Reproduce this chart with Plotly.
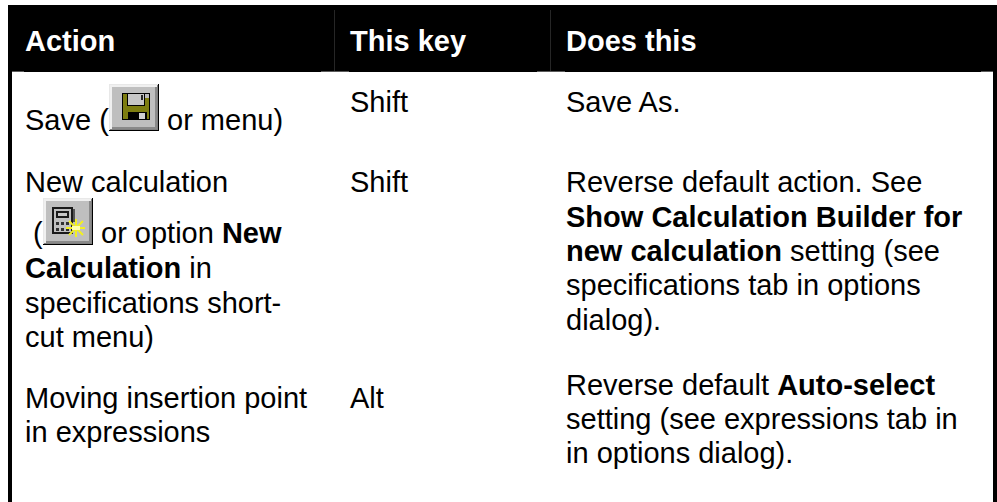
import plotly.graph_objects as go

# ---- content ----
header_labels = ["Action", "This key", "Does this"]
action_lines = [
    "Save (",
    "or menu)",
    "New calculation",
    "(",
    "or option <b>New</b>",
    "<b>Calculation</b> in",
    "specifications short-",
    "cut menu)",
    "Moving insertion point",
    "in expressions",
]
key_labels = ["Shift", "Shift", "Alt"]
does_lines = [
    "Save As.",
    "Reverse default action. See",
    "<b>Show Calculation Builder for</b>",
    "<b>new calculation</b> setting (see",
    "specifications tab in options",
    "dialog).",
    "Reverse default <b>Auto-select</b>",
    "setting (see expressions tab in",
    "in options dialog).",
]

# ---- layout ----
W, H = 997, 502
FONT = "Liberation Sans, Arial, sans-serif"
SIZE = 29
MID = 10  # baseline to annotation middle
header_x = [24, 349, 565]
header_base = 51
action_x = [24, 166, 24, 32, 100, 24, 24, 24, 24, 24]
action_base = [130, 130, 192, 243, 243, 278, 313, 347, 408, 442]
key_base = [112, 192, 408]
does_base = [112, 192, 227, 261, 295, 330, 395, 429, 463]

shapes = []
def rect(x0, y0, x1, y1, color):
    shapes.append(dict(type="rect", xref="x", yref="y", x0=x0, y0=y0, x1=x1, y1=y1,
                       fillcolor=color, line=dict(width=0), layer="above"))
def seg(x0, y0, x1, y1, color, width):
    shapes.append(dict(type="line", xref="x", yref="y", x0=x0, y0=y0, x1=x1, y1=y1,
                       line=dict(color=color, width=width), layer="above"))

# table frame
rect(8, 5, 997, 72, "#000000")
rect(8, 72, 12, 502, "#000000")
rect(993, 72, 997, 502, "#000000")
# faint column dividers and cell ticks in the header
for x in (334, 550):
    rect(x, 10, x + 1, 71, "#262626")
for x0, x1 in ((12, 24), (321, 349), (537, 565), (981, 993)):
    rect(x0, 71, x1, 72, "#5a5a5a")

def button(x, y, w=50, h=47):
    rect(x, y, x + w, y + h, "#000000")
    rect(x, y, x + w - 1, y + h - 1, "#e8e8e8")
    rect(x + 1, y + 1, x + w - 1, y + h - 1, "#808080")
    rect(x + 1, y + 1, x + w - 2, y + h - 2, "#f0f0f0")
    rect(x + 3, y + 3, x + w - 2, y + h - 2, "#8a8a8a")
    rect(x + 3, y + 3, x + w - 4, y + h - 4, "#bfbfbf")

# floppy icon
button(109, 84)
rect(122, 93, 150, 120, "#000000")
rect(123, 94, 149, 119, "#7d7d10")
rect(127, 93, 145, 106, "#000000")
rect(128, 94, 144, 105, "#c6c6c6")
rect(141, 95, 143, 100, "#222222")
rect(145, 94, 149, 98, "#b8b8b8")
rect(128, 112, 147, 120, "#000000")
rect(139, 113, 145, 119, "#d0d0d0")

# calculator icon
button(43, 198)
rect(52, 207, 73, 234, "#1a1a1a")
rect(54, 209, 71, 232, "#c0c0c0")
rect(56, 211, 69, 218, "#1a1a1a")
rect(58, 213, 67, 216, "#c8c8c8")
for cx in (56, 61, 66):
    for cy in (222, 228):
        rect(cx, cy, cx + 3, cy + 3, "#303030")
rect(73, 209, 75, 222, "#555555")
# sparkle
seg(66, 228, 85, 228, "#f2f020", 2)
seg(76, 219, 76, 237, "#f2f020", 2)
seg(69, 221, 83, 235, "#f2f020", 2)
seg(83, 221, 69, 235, "#f2f020", 2)
seg(72, 228, 80, 228, "#ffffb0", 4)

fig = go.Figure()

ann = []
def text(x, base, s, color="#000000", bold=False):
    ann.append(dict(x=x, y=base - MID, xref="x", yref="y", text=f"<b>{s}</b>" if bold else s,
                    showarrow=False, xanchor="left", yanchor="middle", align="left",
                    borderpad=0, font=dict(family=FONT, size=SIZE, color=color)))

for x, s in zip(header_x, header_labels):
    text(x, header_base, s, "#ffffff", True)
for x, y, s in zip(action_x, action_base, action_lines):
    text(x, y, s)
for y, s in zip(key_base, key_labels):
    text(header_x[1], y, s)
for y, s in zip(does_base, does_lines):
    text(header_x[2], y, s)

fig.update_layout(
    width=W, height=H, margin=dict(l=0, r=0, t=0, b=0, pad=0),
    paper_bgcolor="#ffffff", plot_bgcolor="#ffffff", showlegend=False,
    xaxis=dict(range=[0, W], visible=False, fixedrange=True),
    yaxis=dict(range=[H, 0], visible=False, fixedrange=True),
    shapes=shapes, annotations=ann,
)
fig.write_html("out.html", config={"displayModeBar": False},
               post_script="document.body.style.margin='0';document.body.style.overflow='hidden';")
